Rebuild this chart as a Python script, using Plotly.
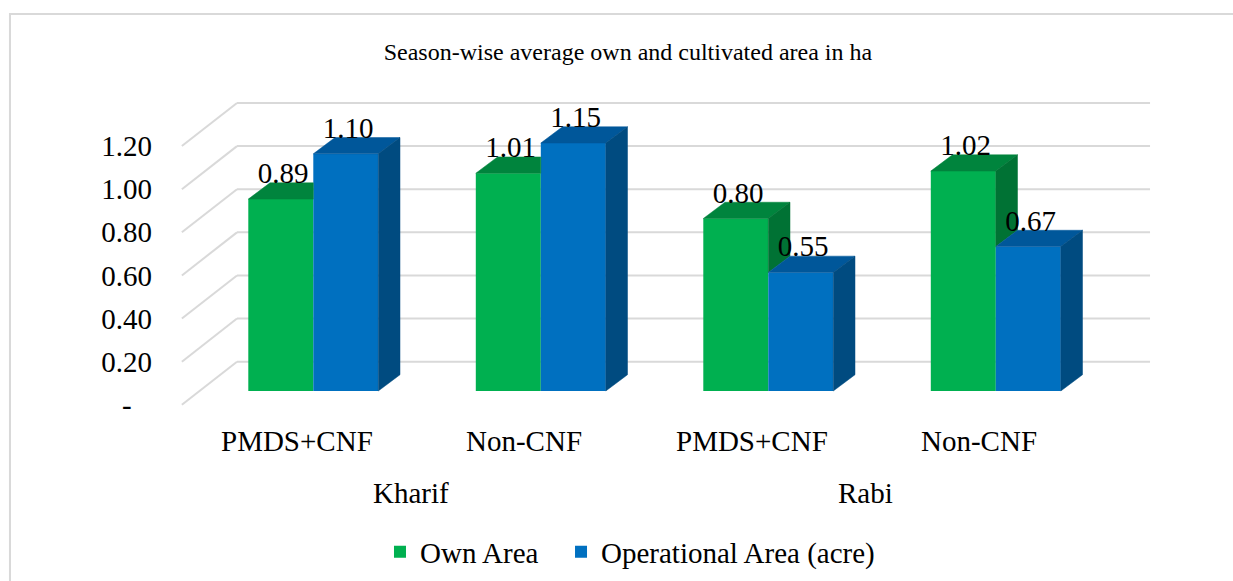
import plotly.graph_objects as go

# ---------------- data ----------------
seasons = ["Kharif", "Kharif", "Rabi", "Rabi"]
groups = ["PMDS+CNF", "Non-CNF", "PMDS+CNF", "Non-CNF"]
own_area = [0.89, 1.01, 0.80, 1.02]
operational_area = [1.10, 1.15, 0.55, 0.67]
y_ticks = [0.0, 0.2, 0.4, 0.6, 0.8, 1.0, 1.2]
y_tick_text = ["-\u00a0\u00a0\u2009", "0.20", "0.40", "0.60", "0.80", "1.00", "1.20"]
series_names = ["Own Area", "Operational Area (acre)"]

# ---------------- style / geometry (pseudo-3D in axis units) ----------------
FONT = "Liberation Serif, Times New Roman, serif"
FS = 29
GREEN = dict(front="#00B050", top="#00843D", side="#007234")
BLUE = dict(front="#0070C0", top="#00579A", side="#004B80")
GRID = "#D9D9D9"

BAR_W = 0.2857          # width of one bar (x units)
DEPTH_DX = 0.0954       # bar depth shift in x
DEPTH_DY = 0.0756       # bar depth shift in y
WALL_DY = 0.1359        # back wall offset (y) relative to the bar plane
WALL_X0, WALL_X1 = -0.3354, 3.678
FRONT_DY = -0.064       # front (label) plane offset
FRONT_X = -0.5776
LABEL_DX = 0.010
LABEL_DY = -0.035
CAT_DX = -0.0725
CAT_Y = -0.231
SEASON_Y = -0.473

X_RANGE = [-0.7046, 3.8976]
Y_RANGE = [-0.5983, 1.4425]

fig = go.Figure()

xs = list(range(len(groups)))

# front faces of bars
fig.add_trace(go.Bar(x=xs, y=own_area, name=series_names[0], width=BAR_W, offset=-BAR_W,
                     marker=dict(color=GREEN["front"], line=dict(width=0)), hoverinfo="y",
                     legend="legend"))
fig.add_trace(go.Bar(x=xs, y=operational_area, name=series_names[1], width=BAR_W, offset=0,
                     marker=dict(color=BLUE["front"], line=dict(width=0)), hoverinfo="y",
                     legend="legend2"))


def poly(px, py, color):
    fig.add_trace(go.Scatter(x=px + [px[0]], y=py + [py[0]], mode="lines", fill="toself",
                             fillcolor=color, line=dict(width=0.5, color=color),
                             hoverinfo="skip", showlegend=False))


for i in xs:
    g, b = own_area[i], operational_area[i]
    gl, gr = i - BAR_W, i
    bl, br = i, i + BAR_W
    # green top face (clipped by the blue bar when blue is taller)
    if b >= g + DEPTH_DY:
        poly([gl, gr, gr, gl + DEPTH_DX], [g, g, g + DEPTH_DY, g + DEPTH_DY], GREEN["top"])
    else:
        poly([gl, gr, gr + DEPTH_DX, gl + DEPTH_DX], [g, g, g + DEPTH_DY, g + DEPTH_DY], GREEN["top"])
    # green side face visible above the blue bar
    if g > b:
        poly([gr, gr, gr + DEPTH_DX, gr + DEPTH_DX], [b, g, g + DEPTH_DY, b + DEPTH_DY], GREEN["side"])
    # blue top and side
    poly([bl, br, br + DEPTH_DX, bl + DEPTH_DX], [b, b, b + DEPTH_DY, b + DEPTH_DY], BLUE["top"])
    poly([br, br, br + DEPTH_DX, br + DEPTH_DX], [0, b, b + DEPTH_DY, DEPTH_DY], BLUE["side"])

# data labels
fig.add_trace(go.Scatter(x=[i - BAR_W / 2 + LABEL_DX for i in xs],
                         y=[v + DEPTH_DY + LABEL_DY for v in own_area],
                         text=[f"{v:.2f}" for v in own_area], mode="text", textposition="top center",
                         textfont=dict(family=FONT, size=FS, color="black"), cliponaxis=False,
                         hoverinfo="skip", showlegend=False))
fig.add_trace(go.Scatter(x=[i + BAR_W / 2 + LABEL_DX for i in xs],
                         y=[v + DEPTH_DY + LABEL_DY for v in operational_area],
                         text=[f"{v:.2f}" for v in operational_area], mode="text", textposition="top center",
                         textfont=dict(family=FONT, size=FS, color="black"), cliponaxis=False,
                         hoverinfo="skip", showlegend=False))

shapes = []
# back wall gridlines and side-wall diagonals
for v in y_ticks:
    shapes.append(dict(type="line", xref="x", yref="y", layer="below",
                       x0=WALL_X0, x1=WALL_X1, y0=v + WALL_DY, y1=v + WALL_DY,
                       line=dict(color=GRID, width=2)))
    shapes.append(dict(type="line", xref="x", yref="y", layer="below",
                       x0=FRONT_X, x1=WALL_X0, y0=v + FRONT_DY, y1=v + WALL_DY,
                       line=dict(color=GRID, width=2)))
# chart frame
shapes.append(dict(type="rect", xref="paper", yref="paper", x0=-0.1366, x1=1.05, y0=-0.2, y1=1.15,
                   line=dict(color=GRID, width=2), layer="below"))

annotations = []
for i in xs:
    annotations.append(dict(x=i + CAT_DX, y=CAT_Y, xref="x", yref="y", text=groups[i], showarrow=False,
                            font=dict(family=FONT, size=FS, color="black")))
season_names = []
for s in seasons:
    if s not in season_names:
        season_names.append(s)
for s in season_names:
    idx = [i for i in xs if seasons[i] == s]
    annotations.append(dict(x=sum(idx) / len(idx) + CAT_DX, y=SEASON_Y, xref="x", yref="y", text=s,
                            showarrow=False, font=dict(family=FONT, size=FS, color="black")))

legend_style = dict(orientation="h", xanchor="left", y=-0.0727, yanchor="middle",
                    font=dict(family=FONT, size=FS, color="black"), bgcolor="rgba(0,0,0,0)")

fig.update_layout(
    width=1233, height=581,
    margin=dict(l=153, r=33, t=80, b=61, autoexpand=False),
    paper_bgcolor="white", plot_bgcolor="white",
    font=dict(family=FONT, color="black"),
    title=dict(text="Season-wise average own and cultivated area in ha", x=0.5093, y=0.9105,
               xanchor="center", yanchor="middle", font=dict(family=FONT, size=24, color="black")),
    xaxis=dict(range=X_RANGE, visible=False, fixedrange=True),
    yaxis=dict(range=Y_RANGE, tickvals=[v + FRONT_DY for v in y_ticks], ticktext=y_tick_text,
               showgrid=False, zeroline=False, showline=False, ticks="",
               tickfont=dict(family=FONT, size=FS, color="black"), fixedrange=True),
    barmode="overlay",
    showlegend=True,
    legend=dict(x=0.2168, **legend_style),
    legend2=dict(x=0.3897, **legend_style),
    shapes=shapes,
    annotations=annotations,
)

fig.write_html("out.html", config={"displayModeBar": False},
               post_script="document.body.style.margin='0';")
